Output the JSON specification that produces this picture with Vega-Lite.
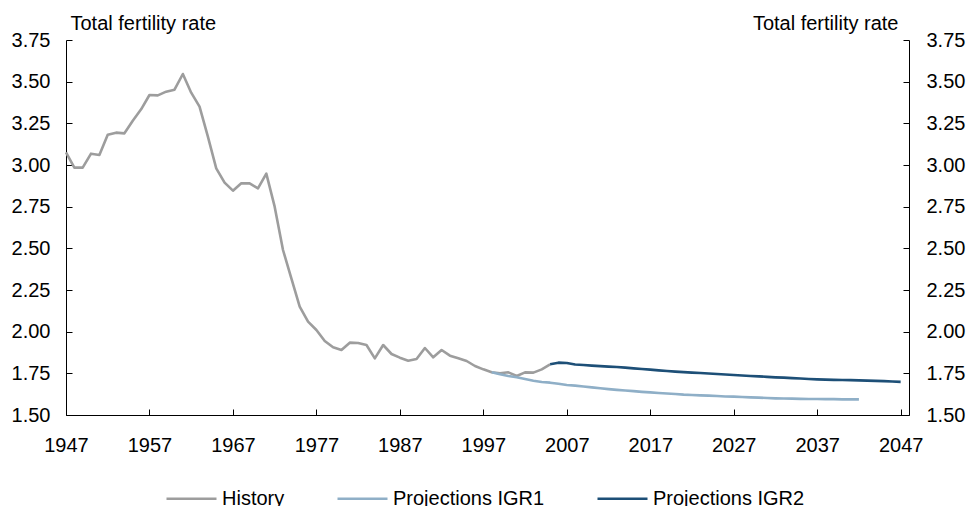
{
  "$schema": "https://vega.github.io/schema/vega-lite/v6.json",
  "width": 843,
  "height": 375,
  "autosize": {"type": "none"},
  "padding": {"left": 66, "top": 40, "right": 59, "bottom": 91},
  "background": "white",
  "config": {
    "view": {"stroke": null},
    "font": "Liberation Sans",
    "axis": {
      "labelFont": "Liberation Sans",
      "labelFontSize": 20,
      "labelColor": "#000000",
      "titleFont": "Liberation Sans",
      "titleFontSize": 20,
      "titleFontWeight": "normal",
      "titleColor": "#000000",
      "domainColor": "#000000",
      "domainWidth": 1,
      "tickColor": "#000000",
      "tickWidth": 1,
      "tickSize": -6,
      "grid": false
    },
    "legend": {
      "labelFont": "Liberation Sans",
      "labelFontSize": 20,
      "labelColor": "#000000"
    }
  },
  "data": {
    "values": [
      {"year": 1947, "tfr": 3.076, "series": "History"},
      {"year": 1948, "tfr": 2.984, "series": "History"},
      {"year": 1949, "tfr": 2.984, "series": "History"},
      {"year": 1950, "tfr": 3.068, "series": "History"},
      {"year": 1951, "tfr": 3.06, "series": "History"},
      {"year": 1952, "tfr": 3.182, "series": "History"},
      {"year": 1953, "tfr": 3.194, "series": "History"},
      {"year": 1954, "tfr": 3.19, "series": "History"},
      {"year": 1955, "tfr": 3.266, "series": "History"},
      {"year": 1956, "tfr": 3.334, "series": "History"},
      {"year": 1957, "tfr": 3.42, "series": "History"},
      {"year": 1958, "tfr": 3.418, "series": "History"},
      {"year": 1959, "tfr": 3.44, "series": "History"},
      {"year": 1960, "tfr": 3.452, "series": "History"},
      {"year": 1961, "tfr": 3.546, "series": "History"},
      {"year": 1962, "tfr": 3.434, "series": "History"},
      {"year": 1963, "tfr": 3.35, "series": "History"},
      {"year": 1964, "tfr": 3.17, "series": "History"},
      {"year": 1965, "tfr": 2.98, "series": "History"},
      {"year": 1966, "tfr": 2.894, "series": "History"},
      {"year": 1967, "tfr": 2.846, "series": "History"},
      {"year": 1968, "tfr": 2.89, "series": "History"},
      {"year": 1969, "tfr": 2.89, "series": "History"},
      {"year": 1970, "tfr": 2.86, "series": "History"},
      {"year": 1971, "tfr": 2.948, "series": "History"},
      {"year": 1972, "tfr": 2.75, "series": "History"},
      {"year": 1973, "tfr": 2.49, "series": "History"},
      {"year": 1974, "tfr": 2.32, "series": "History"},
      {"year": 1975, "tfr": 2.15, "series": "History"},
      {"year": 1976, "tfr": 2.06, "series": "History"},
      {"year": 1977, "tfr": 2.01, "series": "History"},
      {"year": 1978, "tfr": 1.944, "series": "History"},
      {"year": 1979, "tfr": 1.906, "series": "History"},
      {"year": 1980, "tfr": 1.89, "series": "History"},
      {"year": 1981, "tfr": 1.934, "series": "History"},
      {"year": 1982, "tfr": 1.932, "series": "History"},
      {"year": 1983, "tfr": 1.92, "series": "History"},
      {"year": 1984, "tfr": 1.84, "series": "History"},
      {"year": 1985, "tfr": 1.92, "series": "History"},
      {"year": 1986, "tfr": 1.866, "series": "History"},
      {"year": 1987, "tfr": 1.844, "series": "History"},
      {"year": 1988, "tfr": 1.826, "series": "History"},
      {"year": 1989, "tfr": 1.836, "series": "History"},
      {"year": 1990, "tfr": 1.902, "series": "History"},
      {"year": 1991, "tfr": 1.846, "series": "History"},
      {"year": 1992, "tfr": 1.89, "series": "History"},
      {"year": 1993, "tfr": 1.856, "series": "History"},
      {"year": 1994, "tfr": 1.84, "series": "History"},
      {"year": 1995, "tfr": 1.824, "series": "History"},
      {"year": 1996, "tfr": 1.794, "series": "History"},
      {"year": 1997, "tfr": 1.774, "series": "History"},
      {"year": 1998, "tfr": 1.756, "series": "History"},
      {"year": 1999, "tfr": 1.75, "series": "History"},
      {"year": 2000, "tfr": 1.756, "series": "History"},
      {"year": 2001, "tfr": 1.734, "series": "History"},
      {"year": 2002, "tfr": 1.756, "series": "History"},
      {"year": 2003, "tfr": 1.754, "series": "History"},
      {"year": 2004, "tfr": 1.774, "series": "History"},
      {"year": 2005, "tfr": 1.804, "series": "History"},
      {"year": 1998, "tfr": 1.756, "series": "Projections IGR1"},
      {"year": 1999, "tfr": 1.744, "series": "Projections IGR1"},
      {"year": 2000, "tfr": 1.734, "series": "Projections IGR1"},
      {"year": 2001, "tfr": 1.726, "series": "Projections IGR1"},
      {"year": 2002, "tfr": 1.716, "series": "Projections IGR1"},
      {"year": 2003, "tfr": 1.706, "series": "Projections IGR1"},
      {"year": 2004, "tfr": 1.698, "series": "Projections IGR1"},
      {"year": 2005, "tfr": 1.694, "series": "Projections IGR1"},
      {"year": 2006, "tfr": 1.687, "series": "Projections IGR1"},
      {"year": 2007, "tfr": 1.68, "series": "Projections IGR1"},
      {"year": 2008, "tfr": 1.676, "series": "Projections IGR1"},
      {"year": 2009, "tfr": 1.671, "series": "Projections IGR1"},
      {"year": 2010, "tfr": 1.666, "series": "Projections IGR1"},
      {"year": 2011, "tfr": 1.66, "series": "Projections IGR1"},
      {"year": 2012, "tfr": 1.655, "series": "Projections IGR1"},
      {"year": 2013, "tfr": 1.651, "series": "Projections IGR1"},
      {"year": 2014, "tfr": 1.647, "series": "Projections IGR1"},
      {"year": 2015, "tfr": 1.643, "series": "Projections IGR1"},
      {"year": 2016, "tfr": 1.639, "series": "Projections IGR1"},
      {"year": 2017, "tfr": 1.636, "series": "Projections IGR1"},
      {"year": 2018, "tfr": 1.632, "series": "Projections IGR1"},
      {"year": 2019, "tfr": 1.629, "series": "Projections IGR1"},
      {"year": 2020, "tfr": 1.626, "series": "Projections IGR1"},
      {"year": 2021, "tfr": 1.622, "series": "Projections IGR1"},
      {"year": 2022, "tfr": 1.62, "series": "Projections IGR1"},
      {"year": 2023, "tfr": 1.618, "series": "Projections IGR1"},
      {"year": 2024, "tfr": 1.616, "series": "Projections IGR1"},
      {"year": 2025, "tfr": 1.614, "series": "Projections IGR1"},
      {"year": 2026, "tfr": 1.611, "series": "Projections IGR1"},
      {"year": 2027, "tfr": 1.61, "series": "Projections IGR1"},
      {"year": 2028, "tfr": 1.608, "series": "Projections IGR1"},
      {"year": 2029, "tfr": 1.606, "series": "Projections IGR1"},
      {"year": 2030, "tfr": 1.604, "series": "Projections IGR1"},
      {"year": 2031, "tfr": 1.602, "series": "Projections IGR1"},
      {"year": 2032, "tfr": 1.6, "series": "Projections IGR1"},
      {"year": 2033, "tfr": 1.599, "series": "Projections IGR1"},
      {"year": 2034, "tfr": 1.598, "series": "Projections IGR1"},
      {"year": 2035, "tfr": 1.597, "series": "Projections IGR1"},
      {"year": 2036, "tfr": 1.596, "series": "Projections IGR1"},
      {"year": 2037, "tfr": 1.596, "series": "Projections IGR1"},
      {"year": 2038, "tfr": 1.595, "series": "Projections IGR1"},
      {"year": 2039, "tfr": 1.595, "series": "Projections IGR1"},
      {"year": 2040, "tfr": 1.594, "series": "Projections IGR1"},
      {"year": 2041, "tfr": 1.594, "series": "Projections IGR1"},
      {"year": 2042, "tfr": 1.594, "series": "Projections IGR1"},
      {"year": 2005, "tfr": 1.804, "series": "Projections IGR2"},
      {"year": 2006, "tfr": 1.814, "series": "Projections IGR2"},
      {"year": 2007, "tfr": 1.812, "series": "Projections IGR2"},
      {"year": 2008, "tfr": 1.803, "series": "Projections IGR2"},
      {"year": 2009, "tfr": 1.8, "series": "Projections IGR2"},
      {"year": 2010, "tfr": 1.796, "series": "Projections IGR2"},
      {"year": 2011, "tfr": 1.793, "series": "Projections IGR2"},
      {"year": 2012, "tfr": 1.79, "series": "Projections IGR2"},
      {"year": 2013, "tfr": 1.788, "series": "Projections IGR2"},
      {"year": 2014, "tfr": 1.784, "series": "Projections IGR2"},
      {"year": 2015, "tfr": 1.78, "series": "Projections IGR2"},
      {"year": 2016, "tfr": 1.776, "series": "Projections IGR2"},
      {"year": 2017, "tfr": 1.772, "series": "Projections IGR2"},
      {"year": 2018, "tfr": 1.768, "series": "Projections IGR2"},
      {"year": 2019, "tfr": 1.764, "series": "Projections IGR2"},
      {"year": 2020, "tfr": 1.76, "series": "Projections IGR2"},
      {"year": 2021, "tfr": 1.757, "series": "Projections IGR2"},
      {"year": 2022, "tfr": 1.754, "series": "Projections IGR2"},
      {"year": 2023, "tfr": 1.752, "series": "Projections IGR2"},
      {"year": 2024, "tfr": 1.749, "series": "Projections IGR2"},
      {"year": 2025, "tfr": 1.746, "series": "Projections IGR2"},
      {"year": 2026, "tfr": 1.743, "series": "Projections IGR2"},
      {"year": 2027, "tfr": 1.74, "series": "Projections IGR2"},
      {"year": 2028, "tfr": 1.737, "series": "Projections IGR2"},
      {"year": 2029, "tfr": 1.734, "series": "Projections IGR2"},
      {"year": 2030, "tfr": 1.732, "series": "Projections IGR2"},
      {"year": 2031, "tfr": 1.729, "series": "Projections IGR2"},
      {"year": 2032, "tfr": 1.726, "series": "Projections IGR2"},
      {"year": 2033, "tfr": 1.724, "series": "Projections IGR2"},
      {"year": 2034, "tfr": 1.721, "series": "Projections IGR2"},
      {"year": 2035, "tfr": 1.719, "series": "Projections IGR2"},
      {"year": 2036, "tfr": 1.716, "series": "Projections IGR2"},
      {"year": 2037, "tfr": 1.714, "series": "Projections IGR2"},
      {"year": 2038, "tfr": 1.712, "series": "Projections IGR2"},
      {"year": 2039, "tfr": 1.711, "series": "Projections IGR2"},
      {"year": 2040, "tfr": 1.71, "series": "Projections IGR2"},
      {"year": 2041, "tfr": 1.709, "series": "Projections IGR2"},
      {"year": 2042, "tfr": 1.708, "series": "Projections IGR2"},
      {"year": 2043, "tfr": 1.706, "series": "Projections IGR2"},
      {"year": 2044, "tfr": 1.705, "series": "Projections IGR2"},
      {"year": 2045, "tfr": 1.703, "series": "Projections IGR2"},
      {"year": 2046, "tfr": 1.701, "series": "Projections IGR2"},
      {"year": 2047, "tfr": 1.699, "series": "Projections IGR2"}
    ]
  },
  "layer": [
    {
      "mark": {"type": "line", "strokeWidth": 2.6, "strokeJoin": "round"},
      "encoding": {
        "x": {
          "field": "year",
          "type": "quantitative",
          "scale": {"domain": [1947, 2048], "nice": false, "zero": false},
          "axis": {
            "title": null,
            "values": [1947, 1957, 1967, 1977, 1987, 1997, 2007, 2017, 2027, 2037, 2047],
            "format": "d",
            "labelPadding": 26,
            "labelFlush": false
          }
        },
        "y": {
          "field": "tfr",
          "type": "quantitative",
          "scale": {"domain": [1.5, 3.75], "nice": false, "zero": false},
          "axis": {
            "orient": "left",
            "values": [1.5, 1.75, 2, 2.25, 2.5, 2.75, 3, 3.25, 3.5, 3.75],
            "format": ".2f",
            "labelPadding": 22,
            "title": "Total fertility rate",
            "titleAngle": 0,
            "titleAlign": "left",
            "titleBaseline": "alphabetic",
            "titleX": 4,
            "titleY": -10.5
          }
        },
        "color": {
          "field": "series",
          "type": "nominal",
          "scale": {
            "domain": ["History", "Projections IGR1", "Projections IGR2"],
            "range": ["#9d9d9d", "#8fafc7", "#1d4f77"]
          },
          "legend": {
            "title": null,
            "orient": "none",
            "direction": "horizontal",
            "legendX": 99,
            "legendY": 432,
            "symbolType": "stroke",
            "symbolSize": 2500,
            "symbolStrokeWidth": 2.5,
            "labelOffset": 4,
            "columnPadding": 47,
            "padding": 0
          }
        }
      }
    },
    {
      "mark": {"type": "point", "opacity": 0},
      "encoding": {
        "x": {"field": "year", "type": "quantitative"},
        "y": {
          "field": "tfr",
          "type": "quantitative",
          "scale": {"domain": [1.5, 3.75], "nice": false, "zero": false},
          "axis": {
            "orient": "right",
            "values": [1.5, 1.75, 2, 2.25, 2.5, 2.75, 3, 3.25, 3.5, 3.75],
            "format": ".2f",
            "labelPadding": 23,
            "title": "Total fertility rate",
            "titleAngle": 0,
            "titleAlign": "right",
            "titleBaseline": "alphabetic",
            "titleX": -11,
            "titleY": -10.5
          }
        }
      }
    }
  ],
  "resolve": {"scale": {"y": "independent"}}
}
